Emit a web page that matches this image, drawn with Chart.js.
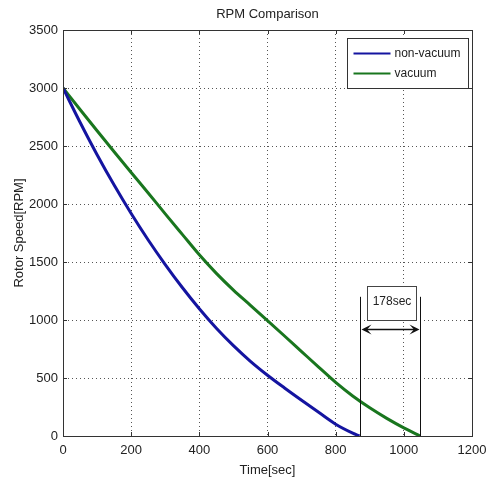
<!DOCTYPE html>
<html>
<head>
<meta charset="utf-8">
<title>RPM Comparison</title>
<script src="https://cdn.jsdelivr.net/npm/chart.js@4.4.1/dist/chart.umd.min.js"></script>
<style>
    html, body { margin: 0; padding: 0; background: #fff; }
    #wrap { width: 491px; height: 482px; }
</style>
</head>
<body>
<div id="wrap"><canvas id="rpmChart" width="491" height="482"></canvas></div>
<script>
// tick labels
const timeTicks = [0, 200, 400, 600, 800, 1000, 1200];
const rpmTicks = [0, 500, 1000, 1500, 2000, 2500, 3000, 3500];

// non-vacuum run
const nonVacuumTime = [0, 50, 100, 150, 200, 250, 300, 350, 400, 450, 500, 550, 600, 650, 700, 750, 800, 850, 870];
const nonVacuumRpm = [3000, 2705, 2425, 2163, 1918, 1690, 1478, 1280, 1097, 929, 779, 644, 524, 414, 308, 204, 102, 25, 0];

// vacuum run
const vacuumTime = [0, 50, 100, 150, 200, 250, 300, 350, 400, 450, 500, 550, 600, 650, 700, 750, 800, 850, 900, 950, 1000, 1048];
const vacuumRpm = [3000, 2815, 2632, 2451, 2272, 2095, 1915, 1738, 1562, 1402, 1258, 1127, 995, 862, 728, 594, 462, 345, 243, 152, 70, 0];

// 178sec annotation
const gapTimes = [870, 1048];
const gapLineTop = 1200;
const gapArrowRpm = 920;
const gapBoxTime = [893, 1036];
const gapBoxRpm = [1000, 1290];
const gapLabel = '178sec';

const FONT = '"Liberation Sans", Arial, sans-serif';
const INK = '#222';

function toPoints(xs, ys) {
    return xs.map((x, i) => ({ x: x, y: ys[i] }));
}

// matlab style frame: box, inward ticks, annotation, legend
const matlabFrame = {
    id: 'matlabFrame',
    afterDatasetsDraw(chart) {
        const ctx = chart.ctx;
        const { left, right, top, bottom } = chart.chartArea;
        const xs = chart.scales.x;
        const ys = chart.scales.y;

        ctx.save();
        ctx.strokeStyle = '#333';
        ctx.lineWidth = 1;
        ctx.strokeRect(Math.round(left) + 0.5, Math.round(top) + 0.5, Math.round(right - left), Math.round(bottom - top));

        // inward ticks
        const tl = 4;
        ctx.beginPath();
        timeTicks.forEach(v => {
            const px = Math.round(xs.getPixelForValue(v)) + 0.5;
            ctx.moveTo(px, bottom); ctx.lineTo(px, bottom - tl);
            ctx.moveTo(px, top); ctx.lineTo(px, top + tl);
        });
        rpmTicks.forEach(v => {
            const py = Math.round(ys.getPixelForValue(v)) + 0.5;
            ctx.moveTo(left, py); ctx.lineTo(left + tl, py);
            ctx.moveTo(right, py); ctx.lineTo(right - tl, py);
        });
        ctx.stroke();

        // vertical markers
        const yTop = ys.getPixelForValue(gapLineTop);
        const yBot = ys.getPixelForValue(0);
        const xa = Math.round(xs.getPixelForValue(gapTimes[0])) + 0.5;
        const xb = Math.round(xs.getPixelForValue(gapTimes[1])) + 0.5;
        ctx.strokeStyle = '#111';
        ctx.beginPath();
        ctx.moveTo(xa, yTop); ctx.lineTo(xa, yBot);
        ctx.moveTo(xb, yTop); ctx.lineTo(xb, yBot);
        ctx.stroke();

        // double arrow
        const ya = Math.round(ys.getPixelForValue(gapArrowRpm)) + 0.5;
        ctx.lineWidth = 1.5;
        ctx.beginPath();
        ctx.moveTo(xa + 4, ya); ctx.lineTo(xb - 4, ya);
        ctx.stroke();
        ctx.fillStyle = '#111';
        const L = 11, W = 5;
        ctx.beginPath();
        ctx.moveTo(xa + 1, ya); ctx.lineTo(xa + L, ya - W); ctx.lineTo(xa + L * 0.6, ya); ctx.lineTo(xa + L, ya + W); ctx.closePath();
        ctx.moveTo(xb - 1, ya); ctx.lineTo(xb - L, ya - W); ctx.lineTo(xb - L * 0.6, ya); ctx.lineTo(xb - L, ya + W); ctx.closePath();
        ctx.fill();

        // label box
        const bx0 = Math.round(xs.getPixelForValue(gapBoxTime[0])) + 0.5;
        const bx1 = Math.round(xs.getPixelForValue(gapBoxTime[1])) + 0.5;
        const by0 = Math.round(ys.getPixelForValue(gapBoxRpm[1])) + 0.5;
        const by1 = Math.round(ys.getPixelForValue(gapBoxRpm[0])) + 0.5;
        ctx.fillStyle = '#fff';
        ctx.fillRect(bx0, by0, bx1 - bx0, by1 - by0);
        ctx.lineWidth = 1;
        ctx.strokeStyle = '#444';
        ctx.strokeRect(bx0, by0, bx1 - bx0, by1 - by0);
        ctx.fillStyle = INK;
        ctx.font = '12px ' + FONT;
        ctx.textAlign = 'center';
        ctx.textBaseline = 'middle';
        ctx.fillText(gapLabel, (bx0 + bx1) / 2, by0 + 15);

        // legend
        const lx = Math.round(right) - 125 + 0.5;
        const ly = Math.round(top) + 8 + 0.5;
        const lw = 121, lh = 50;
        ctx.fillStyle = '#fff';
        ctx.fillRect(lx, ly, lw, lh);
        ctx.strokeStyle = '#333';
        ctx.strokeRect(lx, ly, lw, lh);
        ctx.textAlign = 'left';
        chart.data.datasets.forEach((ds, i) => {
            const yy = ly + 15 + i * 20;
            ctx.strokeStyle = ds.borderColor;
            ctx.lineWidth = 2;
            ctx.beginPath();
            ctx.moveTo(lx + 6, yy); ctx.lineTo(lx + 43, yy);
            ctx.stroke();
            ctx.fillStyle = INK;
            ctx.fillText(ds.label, lx + 47, yy);
        });
        ctx.restore();
    }
};

new Chart(document.getElementById('rpmChart'), {
    type: 'line',
    data: {
        datasets: [
            {
                label: 'non-vacuum',
                data: toPoints(nonVacuumTime, nonVacuumRpm),
                borderColor: '#1414a0',
                borderWidth: 3,
                pointRadius: 0,
                cubicInterpolationMode: 'monotone',
                fill: false
            },
            {
                label: 'vacuum',
                data: toPoints(vacuumTime, vacuumRpm),
                borderColor: '#19761e',
                borderWidth: 3,
                pointRadius: 0,
                cubicInterpolationMode: 'monotone',
                fill: false
            }
        ]
    },
    options: {
        responsive: false,
        animation: false,
        layout: { padding: { left: 0, right: 19, top: 0, bottom: 0 } },
        plugins: {
            legend: { display: false },
            tooltip: { enabled: false },
            title: {
                display: true,
                text: 'RPM Comparison',
                fullSize: false,
                color: INK,
                font: { family: FONT, size: 13, weight: 'normal' },
                padding: { top: 7, bottom: 7.4 }
            }
        },
        scales: {
            x: {
                type: 'linear',
                min: 0,
                max: 1200,
                afterBuildTicks: s => { s.ticks = timeTicks.map(v => ({ value: v })); },
                afterFit: s => { s.height = 46; s.paddingLeft = 0; s.paddingRight = 0; },
                grid: { color: '#555', lineWidth: 1, drawTicks: false },
                border: { display: true, color: '#333', dash: [1, 3] },
                ticks: { color: INK, font: { family: FONT, size: 13 }, padding: 7, maxRotation: 0, callback: v => String(v) },
                title: { display: true, text: 'Time[sec]', color: INK, font: { family: FONT, size: 13 }, padding: { top: 0, bottom: 4 } }
            },
            y: {
                type: 'linear',
                min: 0,
                max: 3500,
                afterBuildTicks: s => { s.ticks = rpmTicks.map(v => ({ value: v })); },
                afterFit: s => { s.width = 63; s.paddingTop = 0; s.paddingBottom = 0; },
                grid: { color: '#555', lineWidth: 1, drawTicks: false },
                border: { display: true, color: '#333', dash: [1, 3] },
                ticks: { color: INK, font: { family: FONT, size: 13 }, padding: 5, callback: v => String(v) },
                title: { display: true, text: 'Rotor Speed[RPM]', color: INK, font: { family: FONT, size: 13 }, padding: { top: 12, bottom: 0 } }
            }
        }
    },
    plugins: [matlabFrame]
});
</script>
</body>
</html>
